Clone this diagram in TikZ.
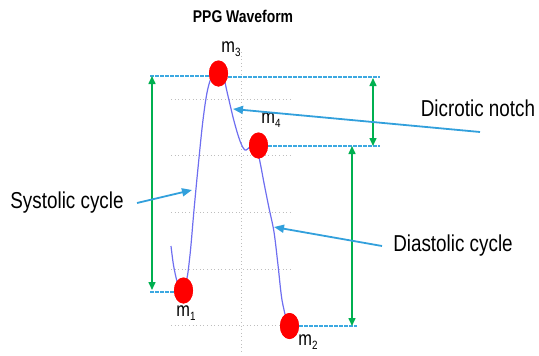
\documentclass[tikz,border=0pt]{standalone}
\usepackage{fontspec}
\setmainfont{Liberation Sans}
\newfontfamily\lab[FakeStretch=0.82]{Liberation Sans}
\usetikzlibrary{arrows.meta,shapes.geometric}
\definecolor{dotred}{RGB}{255,0,0}
\definecolor{dimgreen}{RGB}{0,176,80}
\definecolor{dashblue}{RGB}{60,168,225}
\definecolor{annblue}{RGB}{50,160,220}
\definecolor{wave}{RGB}{110,110,240}
\definecolor{gridgray}{RGB}{190,190,190}
\tikzset{
  x=1pt, y=-1pt,
  dot/.style={ellipse, fill=dotred, draw=none, inner sep=0pt, minimum width=19pt, minimum height=26pt},
  gridline/.style={gridgray, line width=0.9pt, dash pattern=on 1pt off 2.6pt},
  levelline/.style={dashblue, line width=1.7pt, dash pattern=on 3.5pt off 1.5pt},
  dimarrow/.style={dimgreen, line width=1.5pt, {Triangle[length=8pt,width=7pt]}-{Triangle[length=8pt,width=7pt]}},
  annarrow/.style={annblue, line width=1.8pt, -{Triangle[length=10pt,width=8pt]}},
  bigtext/.style={font=\lab\fontsize{23}{23}\selectfont, inner sep=0pt},
  mlabel/.style={font=\lab\fontsize{20}{20}\selectfont, inner sep=0pt}
}
\newcommand{\msub}[1]{m\raisebox{-0.35ex}{\fontsize{12}{12}\selectfont #1}}
\begin{document}
\begin{tikzpicture}
\useasboundingbox (0,0) rectangle (539,356);
% title
\node[font=\lab\bfseries\fontsize{17}{17}\selectfont, inner sep=0pt] (title) at (243,16) {PPG Waveform};
% grid
\coordinate (gv1) at (241,52); \coordinate (gv2) at (241,352);
\draw[gridline] (gv1) -- (gv2);
\foreach \yy [count=\i] in {99,155,212,269,325}{
  \coordinate (ga\i) at (171,\yy); \coordinate (gb\i) at (290,\yy);
  \draw[gridline] (ga\i) -- (gb\i);
}
% waveform
\draw[wave, line width=1.2pt] plot[smooth, tension=0.55] coordinates {
 (171,246) (174,268) (179,286) (186,282) (190,255) (194,210) (198,168) (203,120) (208,88) (215,70)
 (222,72) (228,96) (234,121) (240,141) (245,150) (250,147) (256,146)
 (260,162) (264,183) (269,208) (274,232) (278,265) (282,300) (288,326)};
% level lines
\node[dot] (m3) at (218.5,73.5) {};
\node[dot] (m4) at (258.5,145.5) {};
\node[dot] (m1) at (183.5,290.5) {};
\node[dot] (m2) at (289.5,326) {};
\coordinate (l3a) at (150,76); \coordinate (l3b) at (209,76);
\coordinate (r3a) at (228,77); \coordinate (r3b) at (380,77);
\coordinate (r4a) at (268,146); \coordinate (r4b) at (380,146);
\coordinate (l1a) at (150,292); \coordinate (l1b) at (174,292);
\coordinate (r2a) at (299,326); \coordinate (r2b) at (357,326);
\draw[levelline] (l3a) -- (l3b);
\draw[levelline] (r3a) -- (r3b);
\draw[levelline] (r4a) -- (r4b);
\draw[levelline] (l1a) -- (l1b);
\draw[levelline] (r2a) -- (r2b);
% redraw dots on top
\node[dot] at (m3) {};
\node[dot] at (m4) {};
\node[dot] at (m1) {};
\node[dot] at (m2) {};
% dimension arrows
\coordinate (da1) at (152,76); \coordinate (da2) at (152,290);
\coordinate (db1) at (373,78); \coordinate (db2) at (373,146);
\coordinate (dc1) at (352,146); \coordinate (dc2) at (352,326);
\draw[dimarrow] (da1) -- (da2);
\draw[dimarrow] (db1) -- (db2);
\draw[dimarrow] (dc1) -- (dc2);
% labels
\node[mlabel] (lm3) at (231,49) {\msub{3}};
\node[mlabel] (lm4) at (271,120) {\msub{4}};
\node[mlabel] (lm1) at (186,313) {\msub{1}};
\node[mlabel] (lm2) at (308,342) {\msub{2}};
% annotations
\node[bigtext] (dn) at (478,108) {Dicrotic notch};
\node[bigtext] (sc) at (67,203) {Systolic cycle};
\node[bigtext] (dc) at (453,246) {Diastolic cycle};
\coordinate (dns) at (480,132); \coordinate (dnt) at (233,109);
\coordinate (scs) at (137,203); \coordinate (sct) at (192,190);
\coordinate (dcs) at (382,246); \coordinate (dct) at (274,227);
\draw[annarrow] (dns) -- (dnt);
\draw[annarrow] (scs) -- (sct);
\draw[annarrow] (dcs) -- (dct);
\end{tikzpicture}
\end{document}
